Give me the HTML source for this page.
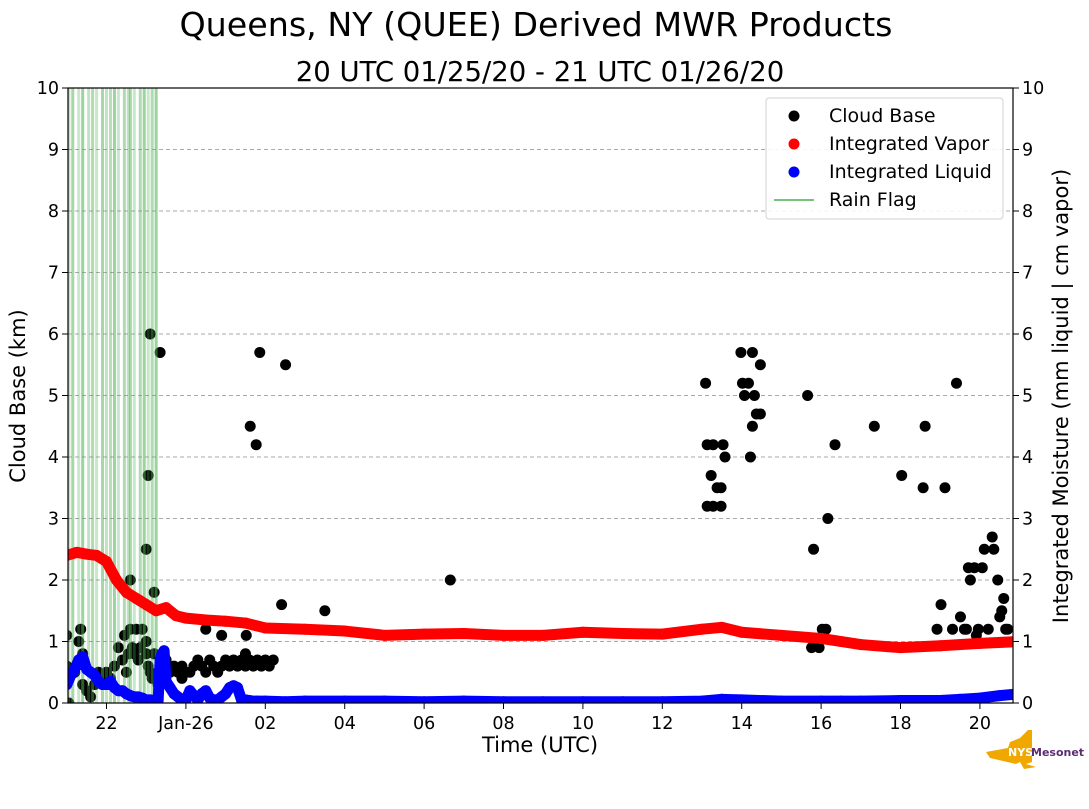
<!DOCTYPE html>
<html><head><meta charset="utf-8"><style>
body{margin:0;background:#fff;}
svg text{font-family:"DejaVu Sans","Liberation Sans",sans-serif;fill:#000;}
</style></head><body>
<svg id="chart" width="1089" height="804" viewBox="0 0 1089 804" xmlns="http://www.w3.org/2000/svg">
<text x="536" y="36" font-size="33.3" text-anchor="middle">Queens, NY (QUEE) Derived MWR Products</text>
<text x="540" y="81" font-size="27.5" text-anchor="middle">20 UTC 01/25/20 - 21 UTC 01/26/20</text>
<g id="grid"></g>
<g id="cloud"></g>
<g id="rain"></g>
<g id="vapor"></g>
<g id="liquid"></g>
<rect x="68" y="88" width="945" height="615" fill="none" stroke="#000" stroke-width="1.2"/>
<g id="axes"></g>
<text x="540" y="752" font-size="21" text-anchor="middle">Time (UTC)</text>
<text transform="translate(25,396) rotate(-90)" font-size="21" text-anchor="middle">Cloud Base (km)</text>
<text transform="translate(1068,396) rotate(-90)" font-size="21" text-anchor="middle">Integrated Moisture (mm liquid | cm vapor)</text>
<g>
<rect x="766" y="98" width="237" height="121" rx="3" fill="#fff" stroke="#ccc" opacity="0.9"/>
<circle cx="794" cy="116" r="5.5" fill="#000"/><text x="829" y="122" font-size="19">Cloud Base</text>
<circle cx="794" cy="144" r="5.5" fill="#f00"/><text x="829" y="150" font-size="19">Integrated Vapor</text>
<circle cx="794" cy="172" r="5.5" fill="#00f"/><text x="829" y="178" font-size="19">Integrated Liquid</text>
<line x1="774" y1="200" x2="814" y2="200" stroke="#4caf50" stroke-width="1.5"/><text x="829" y="206" font-size="19">Rain Flag</text>
</g>
<g>
<path d="M986 752 L1008 748 L1010 742 L1020 738 L1028 730 L1032 730 L1032 762 L1026 764 L1036 767 L1024 769 L1020 762 L1016 764 L990 758 Z" fill="#f0a800"/>
<text x="1008" y="756" font-size="11" font-weight="bold" style="fill:#fff">NYS</text>
<text x="1031" y="756" font-size="11" font-weight="bold" style="fill:#5a2d73">Mesonet</text>
</g>
</svg>
<script>
// hours since 21 UTC 01/25
const xTickHours=[1,3,5,7,9,11,13,15,17,19,21,23];
const xTickLabels=["22","Jan-26","02","04","06","08","10","12","14","16","18","20"];
const yTicks=[0,1,2,3,4,5,6,7,8,9,10];
const cloudTimes=[0,0,0.05,0.2,0.3,0.35,0.4,0.4,0.45,0.5,0.6,0.7,0.8,0.9,1.0,1.05,1.1,1.2,1.3,1.4,1.45,1.5,1.55,1.6,1.65,1.7,1.75,1.8,1.85,1.9,2.0,2.0,2.05,2.1,2.15,2.2,2.2,2.25,2.3,2.35,
2.5,2.6,2.7,2.8,2.9,3.0,3.1,3.2,3.3,3.4,3.5,3.6,3.7,3.8,3.9,4.0,4.1,4.2,4.3,4.4,4.5,4.6,4.7,4.8,4.9,5.0,5.1,5.2,2.9,3.5,3.9,4.5,
2.1,2.05,2.0,1.6,2.2,2.35,4.62,4.77,4.52,4.86,5.51,5.41,6.5,9.66,
16.09,16.13,16.28,16.23,16.13,16.38,16.48,16.28,16.48,16.53,16.58,16.98,17.27,17.02,17.17,17.32,17.07,17.37,17.47,17.27,17.22,17.47,18.66,18.81,18.76,18.95,19.03,19.12,19.17,19.35,20.34,21.03,21.57,21.62,21.92,22.02,22.12,22.31,22.41,22.51,22.61,22.66,22.71,22.76,22.86,22.91,22.96,23.06,23.11,23.21,23.31,23.35,23.45,23.5,23.55,23.6,23.65,23.7];
const cloudValues=[1.1,0.6,0.0,0.5,1.0,1.2,0.8,0.3,0.6,0.2,0.1,0.3,0.5,0.4,0.5,0.3,0.4,0.6,0.9,0.7,1.1,0.5,0.8,1.2,0.9,0.8,1.2,0.7,0.9,1.2,1.0,0.8,0.6,0.5,0.4,0.4,0.8,0.4,0.3,0.5,
0.7,0.5,0.6,0.5,0.6,0.5,0.5,0.6,0.7,0.6,0.5,0.7,0.6,0.5,0.6,0.7,0.6,0.7,0.6,0.7,0.6,0.7,0.6,0.7,0.6,0.7,0.6,0.7,0.4,1.2,1.1,0.8,
6.0,3.7,2.5,2.0,1.8,5.7,4.5,4.2,1.1,5.7,5.5,1.6,1.5,2.0,
5.2,4.2,4.2,3.7,3.2,3.5,3.5,3.2,3.2,4.2,4.0,5.7,5.7,5.2,5.2,5.0,5.0,4.7,4.7,4.5,4.0,5.5,5.0,2.5,0.9,0.9,1.2,1.2,3.0,4.2,4.5,3.7,3.5,4.5,1.2,1.6,3.5,1.2,5.2,1.4,1.2,1.2,2.2,2.0,2.2,1.1,1.2,2.2,2.5,1.2,2.7,2.5,2.0,1.4,1.5,1.7,1.2,1.2];
const vaporTimes=[0,0.25,0.5,0.75,1,1.25,1.5,1.75,2,2.25,2.5,2.75,3,3.5,4,4.5,5,6,7,8,9,10,11,12,13,14,15,16,16.5,17,18,19,19.5,20,21,22,23,24];
const vaporValues=[2.4,2.45,2.42,2.4,2.3,2.0,1.8,1.7,1.6,1.5,1.55,1.42,1.38,1.35,1.33,1.3,1.22,1.2,1.17,1.1,1.12,1.13,1.1,1.1,1.15,1.13,1.12,1.2,1.23,1.15,1.1,1.05,1.0,0.95,0.9,0.93,0.97,1.0];
const liqTimes=[0,0.1,0.2,0.3,0.4,0.5,0.6,0.7,0.8,0.9,1.0,1.1,1.2,1.3,1.4,1.5,1.6,1.7,1.8,1.9,2.0,2.1,2.2,2.3,2.35,2.4,2.45,2.5,2.6,2.7,2.8,2.9,3.0,3.1,3.2,3.3,3.4,3.5,3.6,3.7,3.8,3.9,4.0,4.1,4.2,4.3,4.4,4.5,4.6,4.7,4.8,5.0,5.5,6,7,8,9,10,11,12,13,14,15,16,16.5,17,18,19,19.5,20,21,22,22.5,23,23.5,24];
const liqValues=[0.3,0.45,0.55,0.7,0.75,0.55,0.5,0.45,0.35,0.3,0.3,0.35,0.25,0.2,0.2,0.15,0.12,0.1,0.1,0.08,0.05,0.05,0.04,0.04,0.7,0.8,0.85,0.35,0.25,0.15,0.1,0.05,0.05,0.2,0.12,0.05,0.15,0.2,0.08,0.05,0.05,0.1,0.15,0.25,0.28,0.25,0.05,0.05,0.04,0.03,0.03,0.03,0.02,0.03,0.03,0.03,0.02,0.03,0.02,0.02,0.02,0.02,0.02,0.03,0.06,0.05,0.03,0.03,0.03,0.03,0.04,0.04,0.06,0.08,0.12,0.15];
const rainTimes=[0.05,0.15,0.3,0.4,0.55,0.65,0.75,0.9,1.0,1.1,1.2,1.3,1.45,1.55,1.6,1.7,1.85,1.95,2.05,2.15,2.25];
const rainAlpha=[0.35,0.5,0.3,0.55,0.35,0.45,0.3,0.5,0.35,0.4,0.55,0.3,0.45,0.35,0.5,0.3,0.45,0.55,0.3,0.45,0.55];

const NS="http://www.w3.org/2000/svg";
const X0=68,X1=1013,Y0=703,Y1=88,PXH=39.7,H0=-0.97;
const xs=h=>X0+(h-H0-1)*PXH;
const ys=v=>Y0-(v/10)*(Y0-Y1);
function mk(tag,parent,attrs){const e=document.createElementNS(NS,tag);for(const k in attrs)e.setAttribute(k,attrs[k]);document.getElementById(parent).appendChild(e);return e;}
yTicks.forEach(v=>{
  if(v>0&&v<10){const g=mk('line','grid',{x1:X0,x2:X1,y1:ys(v),y2:ys(v),stroke:'#aaa','stroke-dasharray':'4,3','stroke-width':1});
  
  }
  [[X0,-6,'end',-9],[X1,6,'start',9]].forEach(([x,d,a,o])=>{
    const t=mk('line','axes',{x1:x,x2:x+d,y1:ys(v),y2:ys(v),stroke:'#000'});
    
    
    const l=mk('text','axes',{x:x+o,y:ys(v)+6,'font-size':17.5,'text-anchor':a});
    
    
    l.textContent=v;
  });
});
xTickHours.forEach((h,i)=>{
  const t=mk('line','axes',{x1:xs(h),x2:xs(h),y1:Y0,y2:Y0+6,stroke:'#000'});
  
  
  const l=mk('text','axes',{x:xs(h),y:Y0+26,'font-size':17.5,'text-anchor':'middle'});
  
  
  l.textContent=xTickLabels[i];
});
const clip=mk('clipPath','chart',{id:'pc'});
const cr=document.createElementNS(NS,'rect');cr.setAttribute('x',X0);cr.setAttribute('y',Y1);cr.setAttribute('width',X1-X0);cr.setAttribute('height',Y0-Y1);clip.appendChild(cr);
['cloud','rain','vapor','liquid'].forEach(id=>document.getElementById(id).setAttribute('clip-path','url(#pc)'));
cloudTimes.forEach((h,i)=>{
  const c=mk('circle','cloud',{cx:xs(h),cy:ys(cloudValues[i]),r:5.5,fill:'#000'});
  
  
});
rainTimes.forEach((h,i)=>{
  const r=mk('line','rain',{x1:xs(h),x2:xs(h),y1:Y1,y2:Y0,stroke:'#4caf50','stroke-width':3,'stroke-opacity':rainAlpha[i]});
  
  
});
function series(times,vals,g,col,name){
  const p=mk('path',g,{d:times.map((h,i)=>(i?'L':'M')+xs(h)+' '+ys(vals[i])).join(' '),stroke:col,'stroke-width':11,fill:'none','stroke-linecap':'round','stroke-linejoin':'round'});
  
  
  times.forEach((h,i)=>{const c=mk('circle',g,{cx:xs(h),cy:ys(vals[i]),r:5.5,fill:col});
    
    });
}
series(vaporTimes,vaporValues,'vapor','#f00','vapor');
series(liqTimes,liqValues,'liquid','#00f','liquid');
</script>
</body></html>
